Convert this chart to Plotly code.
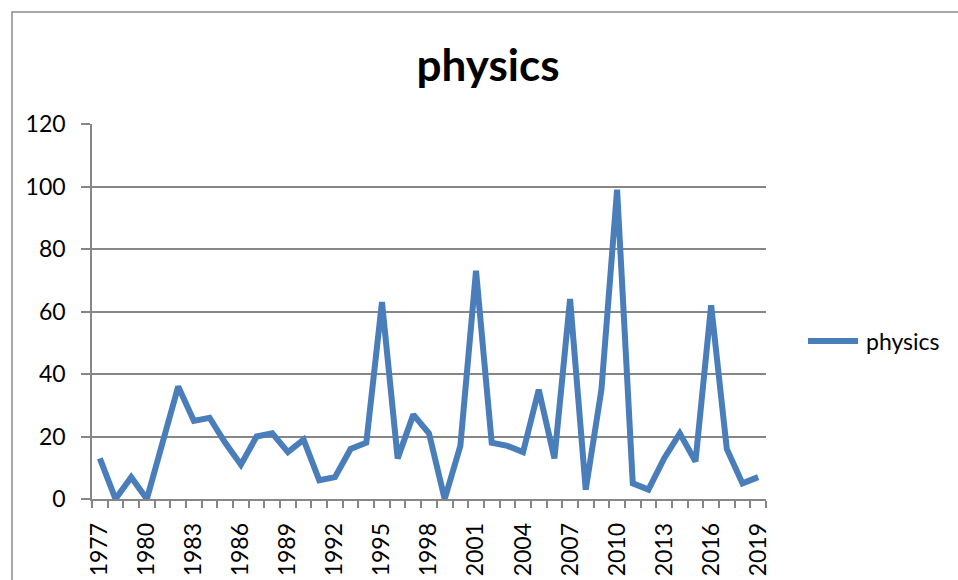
import plotly.graph_objects as go

# Yearly counts for the "physics" series
years = list(range(1977, 2020))
physics = [13, 0, 7, 0, 18, 36, 25, 26, 18, 11,
           20, 21, 15, 19, 6, 7, 16, 18, 63, 13,
           27, 21, 0, 17, 73, 18, 17, 15, 35, 13,
           64, 3, 35, 99, 5, 3, 13, 21, 12, 62,
           16, 5, 7]
y_ticks = [0, 20, 40, 60, 80, 100, 120]
x_tick_years = years[::3]
series_name = "physics"

W, H = 958, 580
L, R, T, B = 92, 766, 124, 499  # plot area in pixels

GRID = "#868686"
BLUE = "#4A7EBB"
FONT = "Lato"


def px_x(p):
    return (p - L) / (R - L)


def px_y(p):
    return (B - p) / (B - T)


fig = go.Figure()
fig.add_trace(go.Scatter(
    x=years, y=physics, mode="lines", name=series_name,
    line=dict(color=BLUE, width=6, shape="linear"),
    showlegend=False,
))

# outer chart border
fig.add_shape(type="rect", xref="paper", yref="paper",
              x0=px_x(12), y0=px_y(600), x1=px_x(1000), y1=px_y(12),
              line=dict(color="#8c8c8c", width=1.5), layer="below")

# legend key: long line sample followed by the series name
fig.add_shape(type="line", xref="paper", yref="paper",
              x0=px_x(808), x1=px_x(858), y0=px_y(341), y1=px_y(341),
              line=dict(color=BLUE, width=6))
fig.add_annotation(xref="paper", yref="paper", x=px_x(864), y=px_y(341),
                   xanchor="left", yanchor="middle", showarrow=False,
                   text=series_name,
                   font=dict(family=FONT, size=23, color="black"))

fig.update_layout(
    width=W, height=H,
    margin=dict(l=L, r=W - R, t=T, b=H - B, autoexpand=False),
    paper_bgcolor="white", plot_bgcolor="white",
    font=dict(family=FONT, color="black", size=22),
    title=dict(text="<b>physics</b>", font=dict(family=FONT, size=44, color="black"),
               x=488 / W, xanchor="center", xref="container",
               y=1 - 66 / H, yanchor="middle", yref="container"),
    showlegend=False,
)

fig.update_xaxes(
    range=[1976.5, 2019.5], tickmode="array",
    tickvals=x_tick_years, ticktext=[str(v) for v in x_tick_years],
    tickangle=-90, ticks="", showgrid=False, zeroline=False,
    showline=True, linecolor=GRID, linewidth=1.5, automargin=False,
    tickfont=dict(family=FONT, size=23, color="black"),
    ticklabelstandoff=13,
    minor=dict(tick0=1976.5, dtick=1, ticks="outside", ticklen=7,
               tickcolor=GRID, tickwidth=1.5, showgrid=False),
)
fig.update_yaxes(
    range=[0, 120], tickmode="array", tickvals=y_ticks,
    ticks="outside", ticklen=9, tickcolor=GRID, tickwidth=1.5,
    showgrid=True, gridcolor=GRID, gridwidth=1.5, zeroline=False,
    showline=True, linecolor=GRID, linewidth=1.5, automargin=False,
    tickfont=dict(family=FONT, size=23, color="black"),
    ticklabelstandoff=11,
)

fig.write_html("out.html")
